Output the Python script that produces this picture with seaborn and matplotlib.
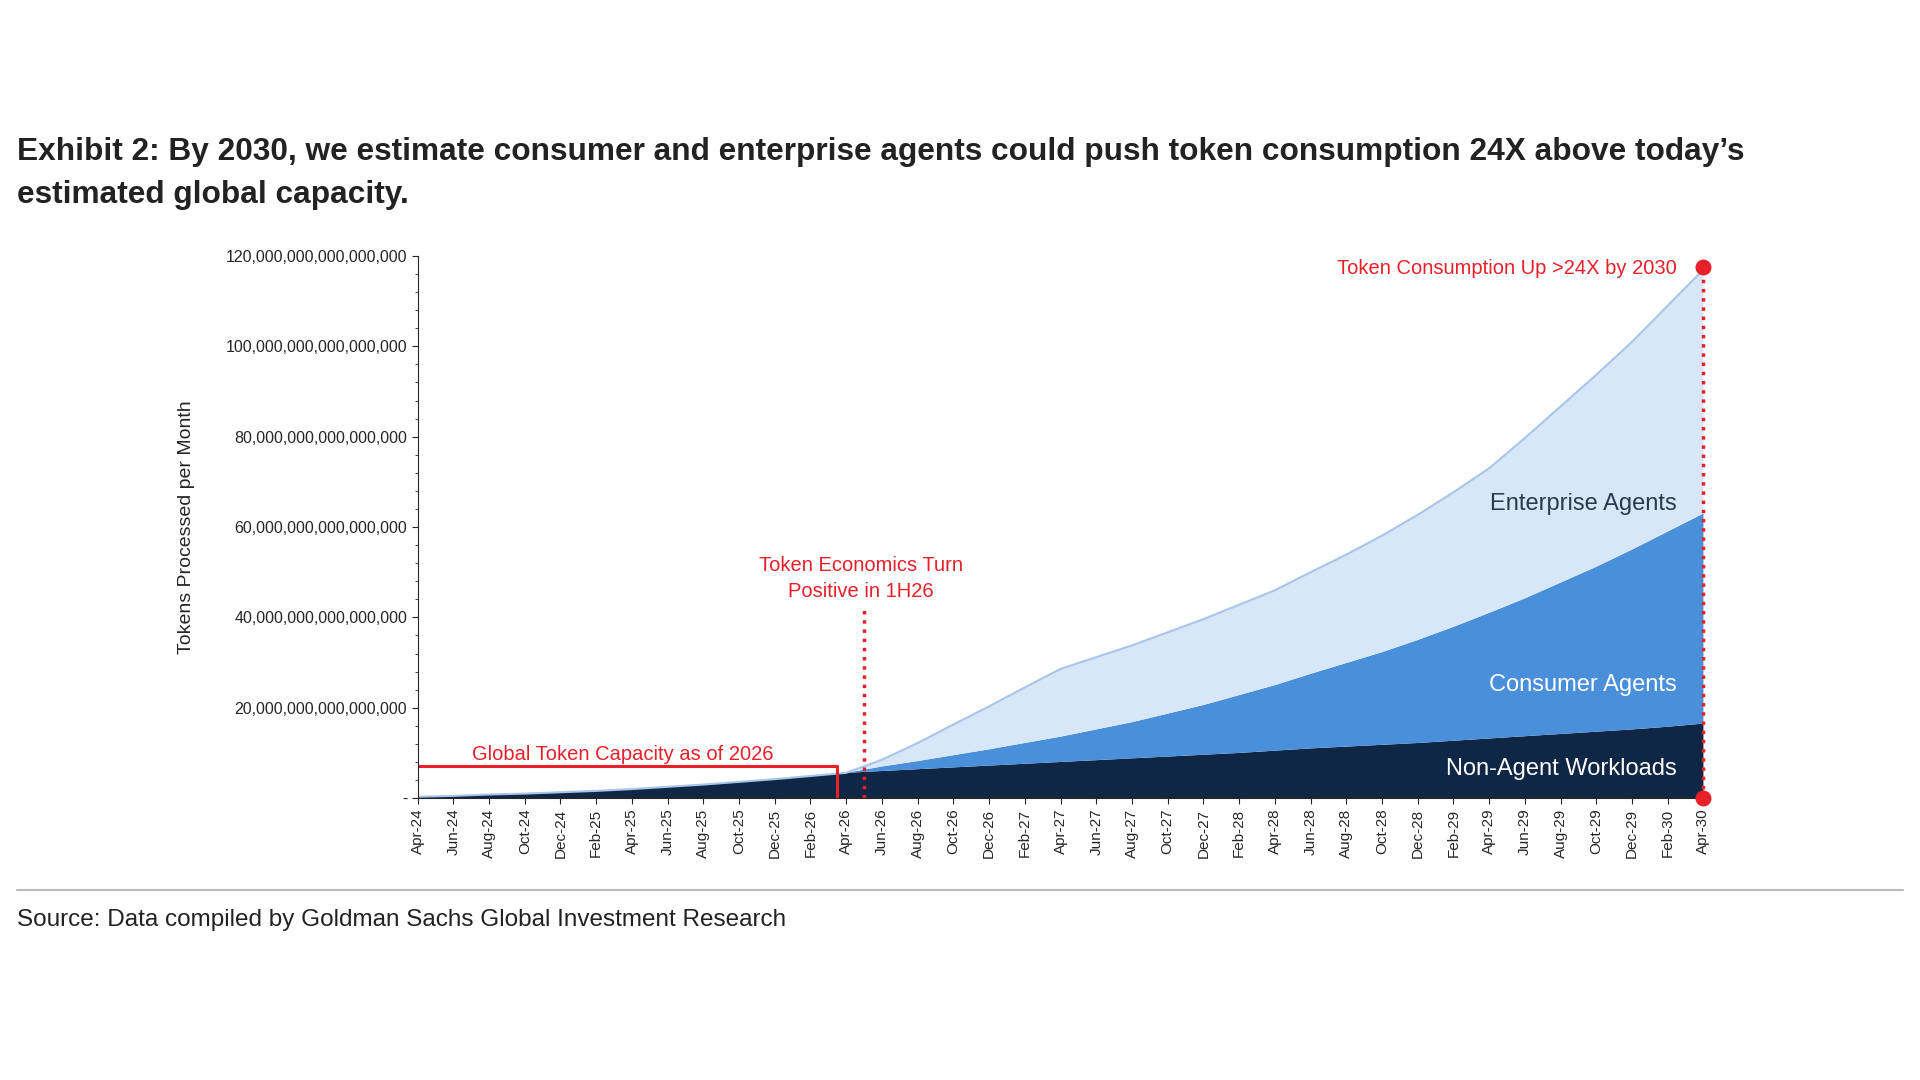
#Gráfica de consumo de tokens por tipo de carga
import pandas as pd
import matplotlib.pyplot as plt
import numpy as np
import seaborn as sns
from matplotlib.ticker import FuncFormatter

sns.set_style("white")
plt.rcParams['font.family'] = ['Liberation Sans', 'DejaVu Sans']

#Etiquetas bimestrales
meses=["Apr-24","Jun-24","Aug-24","Oct-24","Dec-24","Feb-25","Apr-25","Jun-25","Aug-25","Oct-25","Dec-25","Feb-26","Apr-26",
       "Jun-26","Aug-26","Oct-26","Dec-26","Feb-27","Apr-27","Jun-27","Aug-27","Oct-27","Dec-27","Feb-28","Apr-28",
       "Jun-28","Aug-28","Oct-28","Dec-28","Feb-29","Apr-29","Jun-29","Aug-29","Oct-29","Dec-29","Feb-30","Apr-30"]
#Valores en unidades de 1e15
no_agentes=[0.3,0.5,0.8,1.0,1.3,1.6,2.0,2.5,3.0,3.6,4.2,4.9,5.6,
            6.0,6.4,6.8,7.2,7.6,8.0,8.4,8.8,9.2,9.6,10.0,10.5,11.0,11.4,11.8,12.2,12.7,13.2,13.7,14.2,14.7,15.2,15.8,16.5]
consumidor=[0]*13+[1.0,1.8,2.7,3.6,4.6,5.6,6.8,8.0,9.5,11.0,12.8,14.5,16.5,18.5,20.5,22.8,25.2,27.8,30.5,33.5,36.5,39.8,43.2,46.5]
empresa=[0]*13+[1.5,4.0,6.8,9.5,12.3,15.0,16.0,17.0,18.0,19.0,20.0,21.0,22.5,24.0,25.8,27.7,29.8,32.0,35.5,39.0,42.5,46.0,50.0,54.0]

df=pd.DataFrame({"mes":meses,"NoAgente":no_agentes,"Consumidor":consumidor,"Empresa":empresa})
df["x"]=np.arange(len(df))*2 #posición mensual
escala=1e15

fig=plt.figure(figsize=(19.2,10.8),dpi=100)
ax=fig.add_axes([0.2175,0.261,0.6725,0.502])
ax.stackplot(df.x,df.NoAgente*escala,df.Consumidor*escala,df.Empresa*escala,
             colors=["#0f2645","#4a8fd9","#d8e7f7"],edgecolor="none")
total=(df.NoAgente+df.Consumidor+df.Empresa)*escala
ax.plot(df.x,total,color="#a8c5ea",lw=1.5)

ax.set_xlim(0,72.3)
ax.set_ylim(0,120*escala)
ax.set_xticks(df.x)
ax.set_xticklabels(df.mes,rotation=90,fontsize=11)
ax.set_yticks(np.arange(0,121,20)*escala)
ax.yaxis.set_major_formatter(FuncFormatter(lambda v,p: "-" if v==0 else f"{v:,.0f}"))
ax.tick_params(axis="y",labelsize=11.5,left=True,length=4)
ax.tick_params(axis="x",bottom=True,length=4)
ax.set_yticks(np.arange(0,121,4)*escala,minor=True)
ax.tick_params(axis="y",which="minor",left=True,length=2)
ax.set_ylabel("Tokens Processed per Month",fontsize=14,labelpad=22)
sns.despine(ax=ax)

#Anotaciones en rojo
rojo="#e8202a"
ax.plot([0,23.5,23.5],[7*escala,7*escala,0],color=rojo,lw=2.2)
ax.text(11.5,8.5*escala,"Global Token Capacity as of 2026",color=rojo,fontsize=14.5,ha="center")
ax.plot([25,25],[0,42*escala],color=rojo,lw=2.5,ls=":")
ax.text(24.8,44.5*escala,"Token Economics Turn\nPositive in 1H26",color=rojo,fontsize=14.5,ha="center",linespacing=1.5)
ax.plot([72,72],[0,117.5*escala],color=rojo,lw=2.5,ls=":")
ax.scatter([72,72],[0,117.5*escala],color=rojo,s=110,zorder=5,clip_on=False)
ax.text(70.5,116*escala,"Token Consumption Up >24X by 2030",color=rojo,fontsize=14.5,ha="right")

ax.text(70.5,65*escala,"Enterprise Agents",color="#2a3a4f",fontsize=17,ha="right",va="center")
ax.text(70.5,25*escala,"Consumer Agents",color="white",fontsize=17,ha="right",va="center")
ax.text(70.5,6.5*escala,"Non-Agent Workloads",color="white",fontsize=17,ha="right",va="center")

fig.text(0.009,0.852,"Exhibit 2: By 2030, we estimate consumer and enterprise agents could push token consumption 24X above today’s",
         fontsize=22.8,fontweight="bold",color="#222222")
fig.text(0.009,0.812,"estimated global capacity.",fontsize=22.8,fontweight="bold",color="#222222")
fig.add_artist(plt.Line2D([0.009,0.991],[0.176,0.176],color="#bbbbbb",lw=1.5))
fig.text(0.009,0.143,"Source: Data compiled by Goldman Sachs Global Investment Research",fontsize=17.5,color="#222222")

plt.savefig("out.png")
